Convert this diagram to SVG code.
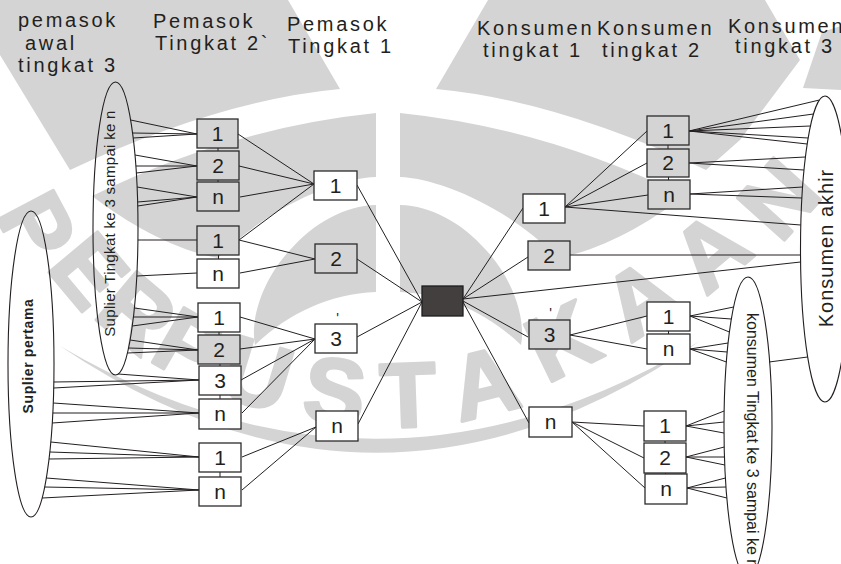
<svg xmlns="http://www.w3.org/2000/svg" width="841" height="564" viewBox="0 0 841 564">
  <style>
    .wm { fill: #d4d4d4; }
    .wmt { fill: #d4d4d4; stroke: #d4d4d4; stroke-width: 3; stroke-linejoin: round; font-family: "Liberation Sans", Arial, sans-serif; font-weight: bold; font-size: 92px; text-anchor: middle; }
    .hd { font-family: "Liberation Sans", Arial, sans-serif; font-size: 20px; letter-spacing: 2.7px; fill: #231f20; }
    .ln { stroke: #231f20; stroke-width: 1; fill: none; }
    .bx { fill: #ffffff; stroke: #2b2b2b; stroke-width: 1.3; }
    .bx.g { fill: #d4d4d4; }
    .hub { fill: #433f3f; stroke: #1e1e1e; stroke-width: 1.3; }
    .lb { font-family: "Liberation Sans", Arial, sans-serif; font-size: 21px; text-anchor: middle; fill: #231f20; }
    .el { fill: none; stroke: #231f20; stroke-width: 1.1; }
    .et { font-family: "Liberation Sans", Arial, sans-serif; fill: #231f20; }
    .tick { font-family: "Liberation Sans", Arial, sans-serif; font-size: 14px; fill: #231f20; text-anchor: middle; }
  </style>

  <!-- background emblem -->
  <g id="emblem">
    <path class="wm" d="M0,0 H288 L340,89 Q220,100 70,170 L0,55 Z"/>
    <path class="wm" d="M488,0 H765 L800,60 L740,140 L706,170 Q556,100 436,89 Z"/>
    <path class="wm" d="M803,88 L822,32 L841,26 V90 Z"/>
    <path class="wm" d="M376,113 L376,177 C340,178 270,205 218,258 C175,250 130,225 92,196 Q230,128 376,113 Z"/>
    <path class="wm" d="M400,113 L400,177 C436,178 506,205 558,258 C601,250 646,225 684,196 Q546,128 400,113 Z"/>
    <path class="wm" d="M376,205 L376,292 C330,294 290,312 255,345 C250,320 262,280 290,250 C315,222 345,206 376,205 Z"/>
    <path class="wm" d="M400,205 L400,292 C446,294 486,312 521,345 C526,320 514,280 486,250 C461,222 431,206 400,205 Z"/>
    <path class="wm" d="M60,346 Q380,562 700,341 Q380,534 60,346 Z"/>
    <text class="wmt" transform="translate(38,226) rotate(62)" y="33">P</text>
    <text class="wmt" transform="translate(90,270) rotate(50)" y="33">E</text>
    <text class="wmt" transform="translate(138,312) rotate(40)" y="33">R</text>
    <text class="wmt" transform="translate(190,346) rotate(30)" y="33">P</text>
    <text class="wmt" transform="translate(258,373) rotate(17)" y="33">U</text>
    <text class="wmt" transform="translate(335,390) rotate(7)" y="33">S</text>
    <text class="wmt" transform="translate(408,394) rotate(-2)" y="33">T</text>
    <text class="wmt" transform="translate(484,382) rotate(-14)" y="33">A</text>
    <text class="wmt" transform="translate(562,340) rotate(-26)" y="33">K</text>
    <text class="wmt" transform="translate(640,298) rotate(-33)" y="33">A</text>
    <text class="wmt" transform="translate(710,250) rotate(-40)" y="33">A</text>
    <text class="wmt" transform="translate(778,198) rotate(-48)" y="33">N</text>
  </g>

  <!-- column headings -->
  <g id="headings">
    <text class="hd" x="18" y="27">pemasok</text>
    <text class="hd" x="25" y="50">awal</text>
    <text class="hd" x="18" y="72">tingkat 3</text>
    <text class="hd" x="153" y="28">Pemasok</text>
    <text class="hd" x="155" y="50">Tingkat 2`</text>
    <text class="hd" x="287" y="31">Pemasok</text>
    <text class="hd" x="288" y="53">Tingkat 1</text>
    <text class="hd" x="477" y="35">Konsumen</text>
    <text class="hd" x="483" y="57">tingkat 1</text>
    <text class="hd" x="597" y="35">Konsumen</text>
    <text class="hd" x="602" y="57">tingkat 2</text>
    <text class="hd" x="728" y="33">Konsumen</text>
    <text class="hd" x="735" y="53">tingkat 3</text>
  </g>

  <!-- connectors -->
  <g id="connectors" class="ln">
    <!-- suplier tingkat 3..n to pemasok tingkat 2 -->
    <path d="M130.6,120 L197,134 M133,133 L197,134 M133.2,138 L197,134"/>
    <path d="M135,155 L197,166 M135.9,166 L197,166 M136.3,173 L197,166"/>
    <path d="M137.1,187 L197,197 M137.6,202 L197,197 M137.7,206 L197,197"/>
    <path d="M137.9,240 L197,240"/>
    <path d="M136.8,276 L197,273"/>
    <path d="M134.4,308 L198,317 M133.4,317 L198,317 M132.3,326 L198,317"/>
    <path d="M130.1,340 L198,350 M128.5,348 L198,350 M127.4,353 L198,350"/>
    <path d="M118.1,374 L199,380"/>
    <!-- suplier pertama to pemasok tingkat 2 -->
    <path d="M53.8,382 L199,380 M53.7,388 L199,380"/>
    <path d="M53.2,403 L199,413 M52.8,413 L199,413 M52.2,423 L199,413"/>
    <path d="M50.8,442 L199,457 M49.8,452 L199,457 M49,459 L199,457"/>
    <path d="M46.3,478 L199,490 M44.7,487 L199,490 M42.1,498 L199,490"/>
    <!-- stacked box joins -->
    <path d="M218,148 V151 M218,180 V182 M218.5,255 V259 M219,332 V335 M220,364 V366 M220,395 V399 M220,472 V477"/>
    <path d="M668,145 V149 M668.5,177 V180 M668.5,331 V334 M665,441 V443 M665.5,473 V474"/>
    <!-- pemasok tingkat 2 to pemasok tingkat 1 -->
    <path d="M238,134 L314,184 M239,166 L314,184 M240,197 L314,184 M239,240 L314,184"/>
    <path d="M239,240 L315,259 M240,273 L315,259"/>
    <path d="M240,317 L315,339 M240,349 L315,339 M241,380 L315,339 M242,413 L315,339"/>
    <path d="M242,457 L316,427 M242,490 L316,427"/>
    <!-- pemasok tingkat 1 to hub -->
    <path d="M357,185 L422,302 M357,259 L422,302 M357,337 L422,302 M358,424 L422,302"/>
    <!-- hub to konsumen tingkat 1 and konsumen akhir -->
    <path d="M463,299 L523,208 M463,299 L528,257 M463,299 L800.6,262 M463,301 L528,337 M463,302 L529,423"/>
    <!-- konsumen tingkat 1 to konsumen tingkat 2 -->
    <path d="M565,207 L647,131 M565,207 L647,163 M565,207 L648,195 M565,207 L800.8,225"/>
    <path d="M570,255 L800.5,255"/>
    <path d="M570,335 L647,316 M570,335 L647,349"/>
    <path d="M572,422 L644,426 M572,422 L644,458 M572,422 L645,488"/>
    <!-- konsumen tingkat 2 to konsumen akhir -->
    <path d="M689,131 L819.4,100 M689,131 L813.5,114 M689,131 L810.4,126 M689,131 L808.1,138 M689,131 L807.2,144"/>
    <path d="M689,163 L805.4,157 M689,163 L804,170"/>
    <path d="M690,194 L802.6,187 M690,194 L801.9,198"/>
    <!-- konsumen tingkat 2 to konsumen tingkat 3..n -->
    <path d="M690,316 L733.6,307 M690,316 L731.3,319 M690,316 L729.4,332"/>
    <path d="M690,349 L728.1,343 M690,349 L727.2,352 M690,349 L726.4,362"/>
    <path d="M686,426 L724.1,411 M686,426 L724,422 M686,426 L724,433"/>
    <path d="M686,457 L724.2,447 M686,457 L724.5,457 M686,457 L724.8,465"/>
    <path d="M687,488 L725.4,478 M687,488 L726,487 M687,488 L726.9,498"/>
    <path d="M769,362 L807.7,357"/>
  </g>

  <!-- supplier groups -->
  <g id="suplier-tingkat-3">
    <ellipse class="el" cx="115.5" cy="228.5" rx="22.5" ry="146.5"/>
    <text class="et" font-size="15" letter-spacing="0.3" text-anchor="middle" transform="translate(115,223.5) rotate(-90)">Suplier Tingkat ke 3 sampai ke n</text>
  </g>
  <g id="suplier-pertama">
    <ellipse class="el" cx="31" cy="364" rx="23" ry="153"/>
    <text class="et" font-size="14" font-weight="bold" letter-spacing="0.6" text-anchor="middle" transform="translate(32.5,356) rotate(-90)">Suplier pertama</text>
  </g>
  <g id="konsumen-akhir">
    <ellipse class="el" cx="825" cy="249" rx="24.5" ry="153"/>
    <text class="et" font-size="20" letter-spacing="1" text-anchor="middle" transform="translate(833,248) rotate(-90)">Konsumen akhir</text>
  </g>
  <g id="konsumen-tingkat-3">
    <ellipse class="el" cx="748" cy="427" rx="24" ry="150"/>
    <text class="et" font-size="16" transform="translate(747,313) rotate(90)">konsumen Tingkat ke 3 sampai ke n</text>
  </g>

  <!-- pemasok tingkat 2 -->
  <g id="p2-1a"><rect class="bx g" x="197" y="119" width="41" height="29"/><text class="lb" x="217.5" y="141">1</text></g>
  <g id="p2-2a"><rect class="bx g" x="197" y="151" width="42" height="29"/><text class="lb" x="218" y="173">2</text></g>
  <g id="p2-na"><rect class="bx g" x="197" y="182" width="42" height="29"/><text class="lb" x="218" y="204">n</text></g>
  <g id="p2-1b"><rect class="bx g" x="197" y="226" width="42" height="29"/><text class="lb" x="218" y="248">1</text></g>
  <g id="p2-nb"><rect class="bx" x="197" y="259" width="42" height="29"/><text class="lb" x="218" y="281">n</text></g>
  <g id="p2-1c"><rect class="bx" x="198" y="303" width="42" height="29"/><text class="lb" x="219" y="325">1</text></g>
  <g id="p2-2c"><rect class="bx g" x="198" y="335" width="42" height="29"/><text class="lb" x="219" y="357">2</text></g>
  <g id="p2-3c"><rect class="bx" x="199" y="366" width="42" height="29"/><text class="lb" x="220" y="388">3</text></g>
  <g id="p2-nc"><rect class="bx" x="199" y="399" width="42" height="30"/><text class="lb" x="220" y="421">n</text></g>
  <g id="p2-1d"><rect class="bx" x="199" y="443" width="42" height="29"/><text class="lb" x="220" y="465">1</text></g>
  <g id="p2-nd"><rect class="bx" x="199" y="477" width="42" height="29"/><text class="lb" x="220" y="499">n</text></g>

  <!-- pemasok tingkat 1 -->
  <g id="p1-1"><rect class="bx" x="314" y="171" width="43" height="29"/><text class="lb" x="335.5" y="193">1</text></g>
  <g id="p1-2"><rect class="bx g" x="315" y="244" width="42" height="29"/><text class="lb" x="336" y="266">2</text></g>
  <g id="p1-3"><rect class="bx" x="315" y="324" width="42" height="29"/><text class="lb" x="336" y="346">3</text><text class="tick" x="337.5" y="322.5">'</text></g>
  <g id="p1-n"><rect class="bx" x="316" y="411" width="42" height="30"/><text class="lb" x="337" y="433">n</text></g>

  <!-- focal company -->
  <g id="hub"><rect class="hub" x="422" y="286" width="41" height="30"/></g>

  <!-- konsumen tingkat 1 -->
  <g id="k1-1"><rect class="bx" x="523" y="194" width="42" height="29"/><text class="lb" x="544" y="216">1</text></g>
  <g id="k1-2"><rect class="bx g" x="528" y="241" width="42" height="29"/><text class="lb" x="549" y="263">2</text></g>
  <g id="k1-3"><rect class="bx g" x="529" y="320" width="41" height="29"/><text class="lb" x="549.5" y="342">3</text><text class="tick" x="550.5" y="318">'</text></g>
  <g id="k1-n"><rect class="bx" x="529" y="407" width="43" height="30"/><text class="lb" x="550.5" y="429">n</text></g>

  <!-- konsumen tingkat 2 -->
  <g id="k2-1a"><rect class="bx g" x="647" y="116" width="42" height="29"/><text class="lb" x="668" y="138">1</text></g>
  <g id="k2-2a"><rect class="bx g" x="647" y="149" width="42" height="28"/><text class="lb" x="668" y="170">2</text></g>
  <g id="k2-na"><rect class="bx g" x="648" y="180" width="42" height="29"/><text class="lb" x="669" y="202">n</text></g>
  <g id="k2-1b"><rect class="bx" x="647" y="302" width="43" height="29"/><text class="lb" x="668.5" y="324">1</text></g>
  <g id="k2-nb"><rect class="bx" x="647" y="334" width="43" height="30"/><text class="lb" x="668.5" y="356">n</text></g>
  <g id="k2-1c"><rect class="bx" x="644" y="411" width="42" height="30"/><text class="lb" x="665" y="433">1</text></g>
  <g id="k2-2c"><rect class="bx" x="644" y="443" width="42" height="30"/><text class="lb" x="665" y="465">2</text></g>
  <g id="k2-nc"><rect class="bx" x="645" y="474" width="42" height="30"/><text class="lb" x="666" y="496">n</text></g>
</svg>
